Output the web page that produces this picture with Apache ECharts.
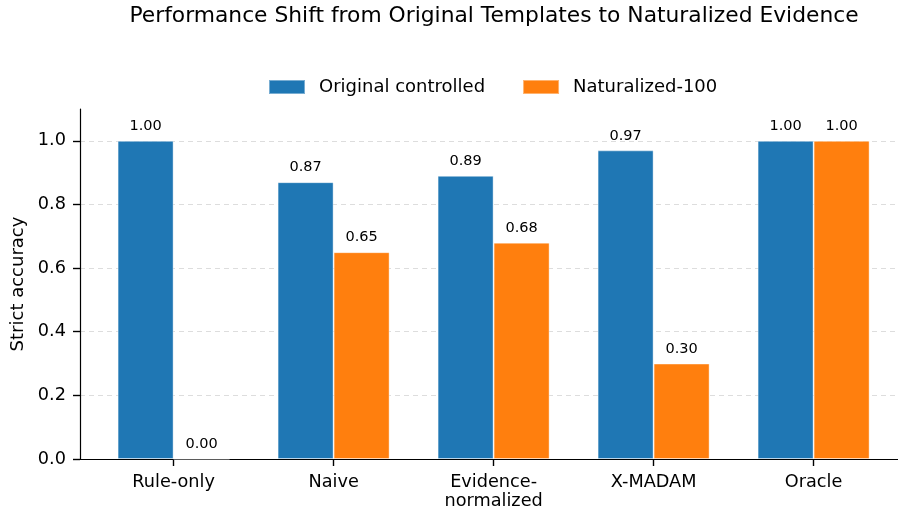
<!DOCTYPE html>
<html>
<head>
<meta charset="utf-8">
<script src="https://cdn.jsdelivr.net/npm/echarts@6/dist/echarts.min.js"></script>
<style>html,body{margin:0;padding:0;background:#fff}#c{width:898px;height:512px}</style>
</head>
<body>
<div id="c"></div>
<script>
const categories = ["Rule-only", "Naive", "Evidence-\nnormalized", "X-MADAM", "Oracle"];
const originalControlled = [1.00, 0.87, 0.89, 0.97, 1.00];
const naturalized100 = [0.00, 0.65, 0.68, 0.30, 1.00];
const yTicks = [0, 0.2, 0.4, 0.6, 0.8, 1.0];
const catPositions = categories.map((c, i) => i);

const FONT = "DejaVu Sans";
const chart = echarts.init(document.getElementById('c'), null, {renderer: 'canvas'});
const barHalf = 0.175;
const labelCfg = {
  show: true, position: 'top', distance: 7,
  fontFamily: FONT, fontSize: 14.5, color: '#000',
  formatter: p => p.value[1].toFixed(2)
};
chart.setOption({
  animation: false,
  backgroundColor: '#fff',
  title: {
    text: 'Performance Shift from Original Templates to Naturalized Evidence',
    left: 489, top: 0, textAlign: 'center',
    textStyle: {fontFamily: FONT, fontSize: 21.8, fontWeight: 'normal', color: '#000'}
  },
  legend: {
    data: ['Original controlled', 'Naturalized-100'],
    left: 263, top: 73,
    itemWidth: 36, itemHeight: 14, itemGap: 37,
    icon: 'rect',
    textStyle: {fontFamily: FONT, fontSize: 18, color: '#000', padding: [0, 0, 0, 9]}
  },
  grid: {left: 80, right: 0, top: 109, bottom: 53, containLabel: false},
  xAxis: {
    type: 'value', min: -0.585, max: 4.5275,
    axisLine: {show: true, onZero: false, lineStyle: {color: '#000', width: 1.2}},
    axisTick: {show: true, inside: false, customValues: catPositions, length: 7, lineStyle: {color: '#000', width: 1.4}},
    axisLabel: {
      customValues: catPositions, fontFamily: FONT, fontSize: 17.7, color: '#000', margin: 14,
      lineHeight: 19,
      formatter: v => categories[Math.round(v)]
    },
    splitLine: {show: false}
  },
  yAxis: {
    type: 'value', min: 0, max: 1.1,
    name: 'Strict accuracy', nameLocation: 'middle', nameGap: 51,
    nameTextStyle: {fontFamily: FONT, fontSize: 18, color: '#000'},
    axisLine: {show: true, onZero: false, lineStyle: {color: '#000', width: 1.2}},
    axisTick: {show: true, inside: false, customValues: yTicks, length: 7, lineStyle: {color: '#000', width: 1.4}},
    axisLabel: {customValues: yTicks, fontFamily: FONT, fontSize: 17.7, color: '#000', margin: 14,
      formatter: v => v.toFixed(1)},
    splitLine: {show: true, lineStyle: {color: '#dddddd', type: [5, 4], width: 1}}
  },
  series: [
    {
      name: 'Original controlled', type: 'bar', barWidth: 56, barGap: '-100%',
      itemStyle: {color: '#1f77b4', borderColor: 'rgba(255,255,255,0.4)', borderWidth: 1},
      label: labelCfg,
      data: originalControlled.map((v, i) => [i - barHalf, v])
    },
    {
      name: 'Naturalized-100', type: 'bar', barWidth: 56, barGap: '-100%',
      itemStyle: {color: '#ff7f0e', borderColor: 'rgba(255,255,255,0.4)', borderWidth: 1},
      label: labelCfg,
      data: naturalized100.map((v, i) => [i + barHalf, v])
    }
  ]
});
</script>
</body>
</html>
